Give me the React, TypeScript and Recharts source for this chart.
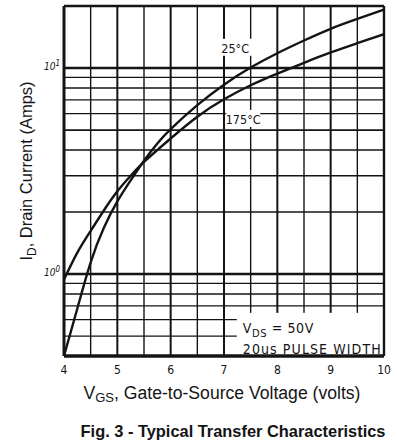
import React from 'react';
import { LineChart, Line, XAxis, YAxis, ReferenceLine, ReferenceDot, ReferenceArea } from 'recharts';

// gate voltage (V) and drain current (A)
const vgs = [4, 4.25, 4.5, 4.75, 5, 5.25, 5.5, 5.75, 6, 6.5, 7, 7.5, 8, 8.5, 9, 9.5, 10];
const id25 = [0.4, 0.68, 1.14, 1.68, 2.25, 2.85, 3.55, 4.3, 5.05, 6.6, 8.3, 10.05, 11.8, 13.6, 15.5, 17.3, 19.2];
const id175 = [0.94, 1.27, 1.62, 2.04, 2.52, 3.0, 3.5, 4.0, 4.55, 5.8, 7.05, 8.25, 9.4, 10.6, 11.9, 13.2, 14.6];

const xTicks = [4, 5, 6, 7, 8, 9, 10];
const xHalfGrid = [4.5, 5.5, 6.5, 7.5, 8.5, 9.5];
const xIntGrid = [5, 6, 7, 8, 9];
const yTicks = [1, 10];
const yMinorGrid = [0.5, 0.6, 0.7, 0.8, 0.9, 2, 3, 4, 6, 7, 8, 9];
const yMajorGrid = [1, 5, 10];

const data = vgs.map((v, i) => ({ v, t25: id25[i], t175: id175[i] }));

const techFont = "'Liberation Sans Narrow', 'DejaVu Sans Condensed', 'DejaVu Sans', sans-serif";
const textFont = "'Liberation Sans', Arial, sans-serif";
const ink = '#141414';

const XTick = (props: any) => {
  const { x, y, payload } = props;
  return (
    <text x={x} y={y + 18} textAnchor="middle" fontSize={12} fontFamily={techFont} fill={ink}>
      {payload.value}
    </text>
  );
};

const YTick = (props: any) => {
  const { x, y, payload } = props;
  const exp = Math.round(Math.log10(payload.value));
  return (
    <text x={x - 4} y={y + 2} textAnchor="end" fontSize={10} fontStyle="italic" fontFamily={techFont} fill={ink}>
      10
      <tspan dy={-4} fontSize={8}>{exp}</tspan>
    </text>
  );
};

const TempLabel = (text: string) => (p: any) => (
  <g>
    <rect x={p.cx - 17} y={p.cy - 10} width={34} height={17} fill="#fff" />
    <text x={p.cx} y={p.cy + 4} textAnchor="middle" fontSize={12.5} fontFamily={techFont} fill={ink}>
      {text}
    </text>
  </g>
);

const NoteBox = (p: any) => (
  <g>
    <rect x={p.x} y={p.y} width={p.width} height={p.height} fill="#fff" />
    <text x={p.x + 6} y={p.y + 20} fontSize={14} fontFamily={techFont} fill={ink} letterSpacing={0.6}>
      V<tspan dy={4} fontSize={11}>DS</tspan>
      <tspan dy={-4}> = 50V</tspan>
    </text>
    <text x={p.x + 6} y={p.y + 41} fontSize={14} fontFamily={techFont} fill={ink} letterSpacing={1.1}>
      20us PULSE WIDTH
    </text>
  </g>
);

export default function App() {
  return (
    <div style={{ position: 'absolute', left: 0, top: 0, width: 397, height: 444, background: '#fff' }}>
      <LineChart width={397} height={444} data={data} margin={{ top: 6, right: 13, bottom: 0, left: 0 }}>
        <XAxis
          type="number"
          dataKey="v"
          domain={[4, 10]}
          ticks={xTicks}
          height={88}
          tickSize={0}
          tickMargin={0}
          axisLine={false}
          tickLine={false}
          tick={<XTick />}
          allowDataOverflow
        />
        <YAxis
          scale="log"
          domain={[0.4, 20]}
          ticks={yTicks}
          width={64}
          tickSize={0}
          tickMargin={0}
          axisLine={false}
          tickLine={false}
          tick={<YTick />}
          allowDataOverflow
        />

        {yMinorGrid.map((y) => (
          <ReferenceLine key={'ym' + y} y={y} stroke={ink} strokeWidth={1.3} zIndex={-100} />
        ))}
        {xHalfGrid.map((x) => (
          <ReferenceLine key={'xh' + x} x={x} stroke={ink} strokeWidth={1.4} zIndex={-100} />
        ))}
        {xIntGrid.map((x) => (
          <ReferenceLine key={'xi' + x} x={x} stroke={ink} strokeWidth={2} zIndex={-100} />
        ))}
        {yMajorGrid.map((y) => (
          <ReferenceLine key={'yM' + y} y={y} stroke={ink} strokeWidth={y === 5 ? 1.8 : 2.6} zIndex={-100} />
        ))}

        <ReferenceArea x1={7.24} x2={10} y1={0.4} y2={0.648} shape={NoteBox} ifOverflow="visible" zIndex={650} />

        <ReferenceLine x={4} stroke={ink} strokeWidth={3} zIndex={700} />
        <ReferenceLine x={10} stroke={ink} strokeWidth={2.4} zIndex={700} />
        <ReferenceLine y={20} stroke={ink} strokeWidth={2.4} zIndex={700} />
        <ReferenceLine y={0.4} stroke={ink} strokeWidth={3.4} zIndex={700} />

        <Line dataKey="t25" type="natural" stroke={ink} strokeWidth={2.4} dot={false} isAnimationActive={false} />
        <Line dataKey="t175" type="natural" stroke={ink} strokeWidth={2.4} dot={false} isAnimationActive={false} />

        <ReferenceDot x={7.21} y={12.4} r={0} shape={TempLabel('25°C')} zIndex={800} />
        <ReferenceDot x={7.36} y={5.6} r={0} shape={TempLabel('175°C')} zIndex={800} />
      </LineChart>

      <svg width={397} height={444} style={{ position: 'absolute', left: 0, top: 0, pointerEvents: 'none' }}>
        <text transform="translate(32,171) rotate(-90)" textAnchor="middle" fontSize={16.5} fontFamily={textFont} fill={ink}>
          I<tspan dy={4} fontSize={12}>D</tspan>
          <tspan dy={-4}>, Drain Current (Amps)</tspan>
        </text>
        <text x={222} y={399} textAnchor="middle" fontSize={17.6} fontFamily={textFont} fill={ink}>
          V<tspan dy={3} fontSize={13}>GS</tspan>
          <tspan dy={-3}>, Gate-to-Source Voltage (volts)</tspan>
        </text>
        <text x={233} y={437} textAnchor="middle" fontSize={16.4} fontWeight="bold" fontFamily={textFont} fill={ink}>
          Fig. 3 - Typical Transfer Characteristics
        </text>
      </svg>
    </div>
  );
}
